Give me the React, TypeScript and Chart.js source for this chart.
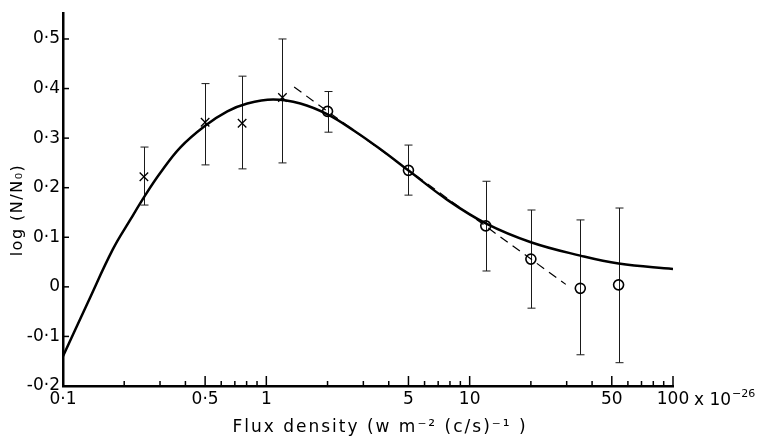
import React, { useEffect, useRef } from "react";
import { Chart, registerables } from "chart.js";

Chart.register(...registerables);

// ---- data ----
const crossX = [0.25, 0.5, 0.76, 1.2];
const crossY = [0.222, 0.332, 0.33, 0.382];
const crossHi = [0.282, 0.41, 0.425, 0.5];
const crossLo = [0.165, 0.246, 0.238, 0.25];

const circleX = [2, 5, 12, 20, 35, 54];
const circleY = [0.354, 0.235, 0.123, 0.056, -0.003, 0.004];
const circleHi = [0.394, 0.286, 0.213, 0.155, 0.135, 0.159];
const circleLo = [0.312, 0.185, 0.032, -0.043, -0.137, -0.153];

const curveX = [0.1, 0.133, 0.176, 0.214, 0.254, 0.3, 0.377, 0.5, 0.643, 0.806, 1.08, 1.47, 2.0, 2.7, 3.63, 5.1, 7.8, 12, 20, 35, 54, 100];
const curveY = [-0.14, -0.03, 0.076, 0.135, 0.185, 0.229, 0.281, 0.325, 0.354, 0.37, 0.378, 0.37, 0.348, 0.315, 0.278, 0.232, 0.175, 0.128, 0.09, 0.063, 0.047, 0.036];

const dashX = [1.37, 29.7];
const dashY = [0.403, 0.005];

const xTickValues = [0.1, 0.2, 0.3, 0.4, 0.5, 0.6, 0.7, 0.8, 0.9, 1, 2, 3, 4, 5, 6, 7, 8, 9, 10, 20, 30, 40, 50, 60, 70, 80, 90, 100];
const xTickLabels: Record<string, string> = { "0.1": "0·1", "0.5": "0·5", "1": "1", "5": "5", "10": "10", "50": "50", "100": "100" };
const yTickValues = [-0.2, -0.1, 0, 0.1, 0.2, 0.3, 0.4, 0.5];
const yTickLabels = ["-0·2", "-0·1", "0", "0·1", "0·2", "0·3", "0·4", "0·5"];

const xTitle = "Flux density (w m⁻² (c/s)⁻¹ )";
const yTitle = "log (N/N₀)";
const xUnitMain = "x 10";
const xUnitExp = "−26";

const FONT = "'DejaVu Sans', sans-serif";

const decorPlugin = {
  id: "decor",
  beforeDatasetsDraw(chart: any) {
    const ctx = chart.ctx;
    const xs = chart.scales.x;
    const ys = chart.scales.y;
    ctx.save();
    ctx.strokeStyle = "#1a1a1a";
    ctx.lineWidth = 1;
    const draw = (X: number[], lo: number[], hi: number[]) => {
      X.forEach((xv, i) => {
        const px = Math.round(xs.getPixelForValue(xv)) + 0.5;
        const pl = ys.getPixelForValue(lo[i]);
        const ph = ys.getPixelForValue(hi[i]);
        ctx.beginPath();
        ctx.moveTo(px, pl);
        ctx.lineTo(px, ph);
        ctx.moveTo(px - 4, ph);
        ctx.lineTo(px + 4, ph);
        ctx.moveTo(px - 4, pl);
        ctx.lineTo(px + 4, pl);
        ctx.stroke();
      });
    };
    draw(crossX, crossLo, crossHi);
    draw(circleX, circleLo, circleHi);
    ctx.restore();
  },
  afterDraw(chart: any) {
    const ctx = chart.ctx;
    const xs = chart.scales.x;
    const ys = chart.scales.y;
    const area = chart.chartArea;
    ctx.save();
    ctx.strokeStyle = "#000";
    ctx.lineWidth = 1.5;
    // x tick marks (inward)
    xTickValues.forEach((v) => {
      const px = xs.getPixelForValue(v);
      const len = xTickLabels[String(v)] ? 10 : 5;
      ctx.beginPath();
      ctx.moveTo(px, area.bottom);
      ctx.lineTo(px, area.bottom - len);
      ctx.stroke();
    });
    // y tick marks (inward)
    yTickValues.forEach((v) => {
      const py = ys.getPixelForValue(v);
      ctx.beginPath();
      ctx.moveTo(area.left, py);
      ctx.lineTo(area.left + 6, py);
      ctx.stroke();
    });
    ctx.fillStyle = "#000";
    // unit after 100
    ctx.font = `17px ${FONT}`;
    ctx.textAlign = "left";
    ctx.textBaseline = "alphabetic";
    const ux = xs.getPixelForValue(100) + 21;
    const uy = area.bottom + 19;
    ctx.fillText(xUnitMain, ux, uy);
    const w = ctx.measureText(xUnitMain).width;
    ctx.font = `11px ${FONT}`;
    ctx.fillText(xUnitExp, ux + w + 1, uy - 8);
    // x title
    ctx.font = `17px ${FONT}`;
    (ctx as any).letterSpacing = "2px";
    ctx.textAlign = "center";
    ctx.textBaseline = "middle";
    ctx.fillText(xTitle, 380, 428);
    // y title
    ctx.font = `16px ${FONT}`;
    (ctx as any).letterSpacing = "1.5px";
    ctx.translate(18, 210);
    ctx.rotate(-Math.PI / 2);
    ctx.fillText(yTitle, 0, 0);
    ctx.restore();
  },
};

export default function App() {
  const ref = useRef<HTMLCanvasElement | null>(null);
  useEffect(() => {
    document.body.style.margin = "0";
    const canvas = ref.current!;
    const chart = new Chart(canvas, {
      type: "scatter",
      data: {
        datasets: [
          {
            label: "curve",
            data: curveX.map((x, i) => ({ x, y: curveY[i] })),
            showLine: true,
            borderColor: "#000",
            borderWidth: 2.5,
            pointRadius: 0,
            tension: 0.4,
          },
          {
            label: "dash",
            data: dashX.map((x, i) => ({ x, y: dashY[i] })),
            showLine: true,
            borderColor: "#000",
            borderWidth: 1.2,
            borderDash: [9, 6],
            pointRadius: 0,
          },
          {
            label: "crosses",
            data: crossX.map((x, i) => ({ x, y: crossY[i] })),
            pointStyle: "crossRot",
            pointRadius: 6,
            borderColor: "#000",
            borderWidth: 1.3,
            showLine: false,
          },
          {
            label: "circles",
            data: circleX.map((x, i) => ({ x, y: circleY[i] })),
            pointStyle: "circle",
            pointRadius: 5,
            borderColor: "#000",
            backgroundColor: "rgba(0,0,0,0)",
            borderWidth: 1.6,
            showLine: false,
          },
        ],
      },
      options: {
        animation: false,
        responsive: false,
        layout: { padding: { left: 0, right: 85, top: 7, bottom: 0 } },
        plugins: { legend: { display: false }, tooltip: { enabled: false } },
        scales: {
          x: {
            type: "logarithmic",
            min: 0.1,
            max: 100,
            grid: { display: false, drawTicks: false },
            border: { display: true, color: "#000", width: 2.5 },
            afterBuildTicks: (s: any) => {
              s.ticks = xTickValues.map((v) => ({ value: v }));
            },
            afterFit: (s: any) => {
              s.height = 54;
            },
            ticks: {
              autoSkip: false,
              maxRotation: 0,
              padding: 3,
              color: "#000",
              font: { family: FONT, size: 17 },
              callback: (v: any) => xTickLabels[String(v)] ?? "",
            },
          },
          y: {
            type: "linear",
            min: -0.2,
            max: 0.552,
            grid: { display: false, drawTicks: false },
            border: { display: true, color: "#000", width: 2.5 },
            afterBuildTicks: (s: any) => {
              s.ticks = yTickValues.map((v) => ({ value: v }));
            },
            afterFit: (s: any) => {
              s.width = 63;
            },
            ticks: {
              padding: 3,
              color: "#000",
              font: { family: FONT, size: 17 },
              callback: (v: any) => {
                const i = yTickValues.findIndex((t) => Math.abs(t - v) < 1e-6);
                return i >= 0 ? yTickLabels[i] : "";
              },
            },
          },
        },
      },
      plugins: [decorPlugin],
    } as any);
    return () => chart.destroy();
  }, []);
  return <canvas ref={ref} width={758} height={440} style={{ display: "block", width: 758, height: 440 }} />;
}
